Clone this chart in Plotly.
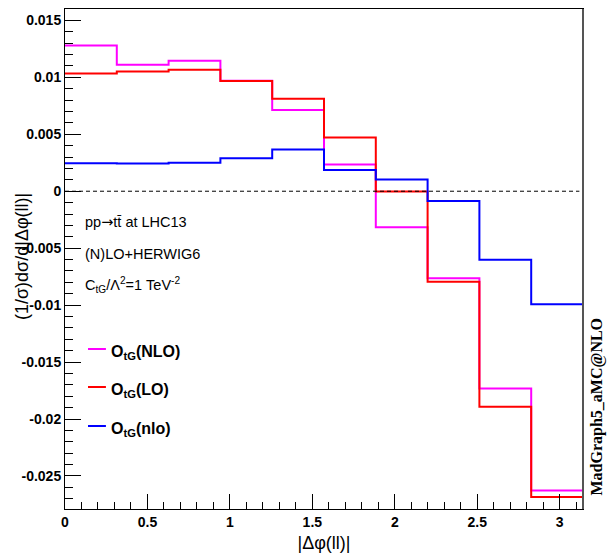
import numpy as np
import plotly.graph_objects as go

# ---- data (bin contents, 10 bins over 0..pi) ----
nbins = 10
nlo_vals = [0.01279, 0.01110, 0.01145, 0.00969, 0.00714, 0.00234, -0.00316, -0.00765, -0.01731, -0.02627]
lo_vals = [0.01034, 0.01051, 0.01066, 0.00967, 0.00811, 0.00471, -0.00003, -0.00794, -0.01893, -0.02684]
nlo_small_vals = [0.00246, 0.00243, 0.00249, 0.00290, 0.00366, 0.00187, 0.00102, -0.00085, -0.00601, -0.00993]

y_tickvals = [0.015, 0.01, 0.005, 0, -0.005, -0.01, -0.015, -0.02, -0.025]
y_ticktext = ["0.015", "0.01", "0.005", "0", "-0.005", "-0.01", "-0.015", "-0.02", "-0.025"]
x_tickvals = [0, 0.5, 1, 1.5, 2, 2.5, 3]
x_ticktext = ["0", "0.5", "1", "1.5", "2", "2.5", "3"]

series = [
    ("O<sub>tG</sub>(NLO)", nlo_vals, "#ff00ff"),
    ("O<sub>tG</sub>(LO)", lo_vals, "#ff0000"),
    ("O<sub>tG</sub>(nlo)", nlo_small_vals, "#0000ff"),
]

edges = np.linspace(0, np.pi, nbins + 1)

fig = go.Figure()
for name, vals, col in series:
    fig.add_trace(go.Scatter(
        x=edges, y=list(vals) + [vals[-1]],
        mode="lines", line=dict(color=col, width=2, shape="hv"),
        name=name, showlegend=False, hoverinfo="skip"))

SANS = "Liberation Sans"
fig.update_layout(
    width=608, height=555,
    margin=dict(l=65, r=25, t=9, b=46),
    paper_bgcolor="white", plot_bgcolor="white",
    font=dict(family=SANS, color="black"),
)

fig.update_xaxes(
    range=[0, np.pi], showgrid=False, zeroline=False, automargin=False,
    showline=True, linecolor="black", linewidth=1, mirror=True,
    ticks="inside", ticklen=15, tickwidth=1, tickcolor="black",
    tickvals=x_tickvals, ticktext=x_ticktext,
    tickfont=dict(family=SANS, size=14, weight="bold"),
    minor=dict(ticks="inside", ticklen=7, tickcolor="black",
               tickvals=list(np.round(np.arange(0, 3.15, 0.1), 3)), showgrid=False),
    title=dict(text="|Δφ(ll)|", font=dict(family=SANS, size=18), standoff=7),
)
fig.update_yaxes(
    range=[-0.0279, 0.016], showgrid=False, zeroline=False, automargin=False,
    showline=True, linecolor="black", linewidth=1, mirror=True,
    ticks="inside", ticklen=16, tickwidth=1, tickcolor="black",
    tickvals=y_tickvals, ticktext=y_ticktext,
    tickfont=dict(family=SANS, size=14, weight="bold"),
    minor=dict(ticks="inside", ticklen=8, tickcolor="black",
               tickvals=list(np.round(np.arange(-0.027, 0.0161, 0.001), 4)), showgrid=False),
)

shapes = [
    dict(type="line", xref="paper", yref="y", x0=0, x1=0.993, y0=0, y1=0,
         line=dict(color="black", width=1, dash="4px,3px")),
    dict(type="line", xref="paper", yref="paper", x0=1, x1=1, y0=0, y1=1,
         line=dict(color="#555555", width=2)),
]
annotations = []

# y-axis title (placed like ROOT, overlapping the tick-label column)
annotations.append(dict(text="(1/σ)dσ/d|Δφ(ll)|", xref="paper", yref="paper",
                        x=-0.083, y=0.504, xanchor="center", yanchor="middle",
                        textangle=-90, showarrow=False,
                        font=dict(family=SANS, size=18, color="black")))

# info text
info = [
    ("pp<span style='font-family:DejaVu Sans'>→</span>tt̄ at LHC13", 0.574),
    ("(N)LO+HERWIG6", 0.510),
    ("C<sub>tG</sub>/Λ<sup>2</sup>=1 TeV<sup>-2</sup>", 0.448),
]
for txt, yp in info:
    annotations.append(dict(text=txt, xref="paper", yref="paper", x=0.034, y=yp,
                            xanchor="left", yanchor="middle", showarrow=False,
                            font=dict(family=SANS, size=14.5, color="black")))

# legend
leg_y = [0.320, 0.244, 0.166]
for (name, vals, col), yp in zip(series, leg_y):
    shapes.append(dict(type="line", xref="paper", yref="paper", x0=0.0444, x1=0.079,
                       y0=yp, y1=yp, line=dict(color=col, width=2)))
    annotations.append(dict(text=name, xref="paper", yref="paper", x=0.085, y=yp - 0.006,
                            xanchor="left", yanchor="middle", showarrow=False,
                            font=dict(family=SANS, size=16, color="black", weight="bold")))

annotations.append(dict(text="MadGraph5_aMC@NLO", xref="paper", yref="paper",
                        x=1.027, y=0.205, xanchor="center", yanchor="middle",
                        textangle=-90, showarrow=False,
                        font=dict(family="Liberation Serif", size=16, color="black", weight="bold")))

fig.update_layout(shapes=shapes, annotations=annotations)
fig.write_html("out.html", config={"displayModeBar": False},
               post_script="document.body.style.margin='0px';document.body.style.overflow='hidden';")
